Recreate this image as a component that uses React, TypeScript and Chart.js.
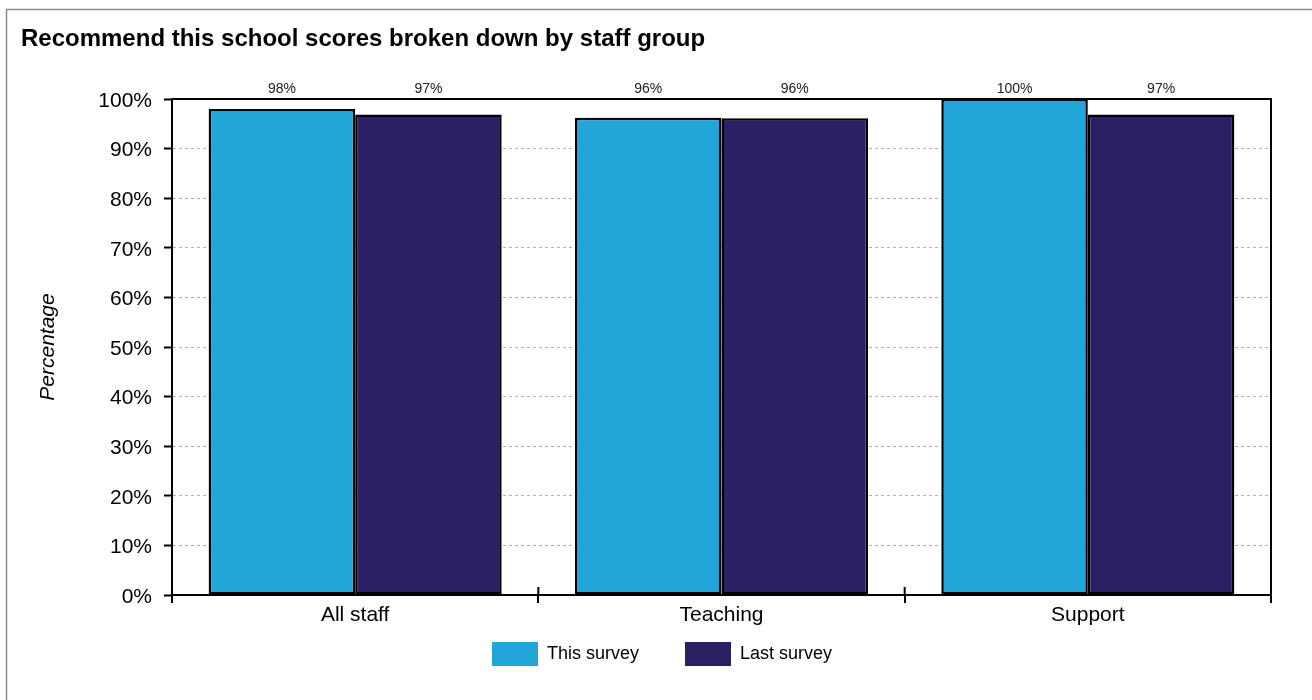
import React, { useEffect, useRef } from "react";
import { Chart, registerables } from "chart.js";

Chart.register(...registerables);

const TITLE = "Recommend this school scores broken down by staff group";
const categories = ["All staff", "Teaching", "Support"];
const thisSurvey = [98, 96.2, 100];
const lastSurvey = [96.9, 96.1, 96.9];
const seriesNames = ["This survey", "Last survey"];
const yAxisTitle = "Percentage";

const FONT = "'Liberation Sans', Arial, Helvetica, sans-serif";

const placeLegend = (chart: any) => {
  const lg = chart.legend;
  if (!lg) return;
  const h = lg.bottom - lg.top;
  lg.top = chart.chartArea.bottom + 1;
  lg.bottom = lg.top + h;
};

const framePlugin = {
  id: "framePlugin",
  afterLayout(chart: any) {
    placeLegend(chart);
  },
  beforeDraw(chart: any) {
    placeLegend(chart);
  },
  afterDraw(chart: any) {
    const { ctx, chartArea } = chart;
    const xs = chart.scales.x;
    ctx.save();
    // outer gray frame
    ctx.strokeStyle = "#8a8a8a";
    ctx.lineWidth = 1.5;
    ctx.beginPath();
    ctx.moveTo(6.5, 700);
    ctx.lineTo(6.5, 9.5);
    ctx.lineTo(1312, 9.5);
    ctx.stroke();
    // title
    ctx.fillStyle = "#000";
    ctx.font = `bold 24px ${FONT}`;
    ctx.textAlign = "left";
    ctx.textBaseline = "alphabetic";
    ctx.fillText(TITLE, 21, 46);
    // top and right border of plot
    ctx.strokeStyle = "#000";
    ctx.lineWidth = 2;
    ctx.beginPath();
    ctx.moveTo(chartArea.left - 1, chartArea.top);
    ctx.lineTo(chartArea.right, chartArea.top);
    ctx.lineTo(chartArea.right, chartArea.bottom);
    ctx.stroke();
    // category separator ticks above the axis
    ctx.beginPath();
    for (let i = 1; i < categories.length; i++) {
      const x = (xs.getPixelForValue(i - 1) + xs.getPixelForValue(i)) / 2;
      ctx.moveTo(x, chartArea.bottom - 8);
      ctx.lineTo(x, chartArea.bottom);
    }
    ctx.moveTo(chartArea.right, chartArea.bottom - 8);
    ctx.lineTo(chartArea.right, chartArea.bottom + 8);
    ctx.stroke();
    // data labels above plot
    ctx.fillStyle = "#222";
    ctx.font = `14px ${FONT}`;
    ctx.textAlign = "center";
    chart.data.datasets.forEach((ds: any, di: number) => {
      const meta = chart.getDatasetMeta(di);
      meta.data.forEach((el: any, i: number) => {
        ctx.fillText(Math.round(ds.data[i]) + "%", el.x, chartArea.top - 6);
      });
    });
    ctx.restore();
  },
};

export default function App() {
  const ref = useRef<HTMLCanvasElement | null>(null);
  useEffect(() => {
    if (!ref.current) return;
    Chart.defaults.font.family = FONT;
    const chart = new Chart(ref.current, {
      type: "bar",
      data: {
        labels: categories,
        datasets: [
          {
            label: seriesNames[0],
            data: thisSurvey,
            backgroundColor: "#22A5D8",
            borderColor: "#000",
            borderWidth: 2.5,
            borderSkipped: false,
            categoryPercentage: 0.8,
            barPercentage: 1.0,
          },
          {
            label: seriesNames[1],
            data: lastSurvey,
            backgroundColor: "#2B2064",
            borderColor: "#000",
            borderWidth: 2.5,
            borderSkipped: false,
            categoryPercentage: 0.8,
            barPercentage: 1.0,
          },
        ],
      },
      options: {
        responsive: false,
        animation: false,
        layout: { padding: { left: 53, right: 41, top: 99, bottom: 0 } },
        plugins: {
          title: { display: false },
          tooltip: { enabled: false },
          legend: {
            position: "bottom",
            maxHeight: 70,
            labels: {
              boxWidth: 46,
              boxHeight: 25,
              padding: 46,
              color: "#000",
              font: { size: 18, family: FONT },
              generateLabels: (c: any) =>
                (Chart.defaults.plugins.legend.labels as any)
                  .generateLabels(c)
                  .map((l: any) => ({ ...l, lineWidth: 0, strokeStyle: l.fillStyle })),
            },
          },
        },
        scales: {
          x: {
            offset: true,
            afterFit: (s: any) => {
              s.height = 35;
            },
            grid: {
              display: true,
              offset: true,
              drawOnChartArea: false,
              drawTicks: true,
              tickLength: 8,
              color: "#000",
              lineWidth: 2,
            },
            border: { display: true, color: "#000", width: 2 },
            ticks: { color: "#000", padding: 0, font: { size: 21, family: FONT } },
          },
          y: {
            min: 0,
            max: 100,
            afterFit: (s: any) => {
              s.width = 119;
            },
            ticks: {
              stepSize: 10,
              color: "#000",
              padding: 12,
              labelOffset: 2,
              font: { size: 21, family: FONT },
              callback: (v: any) => v + "%",
            },
            grid: {
              color: "#b0b0b0",
              lineWidth: 1,
              tickColor: "#000",
              tickWidth: 2,
              tickLength: 8,
              tickBorderDash: [],
            } as any,
            border: { display: true, color: "#000", width: 2, dash: [3, 3] },
            title: {
              display: true,
              text: yAxisTitle,
              color: "#000",
              font: { size: 21, style: "italic", family: FONT },
              padding: { top: -17, bottom: 0 },
            },
          },
        },
      },
      plugins: [framePlugin],
    } as any);
    return () => chart.destroy();
  }, []);
  return (
    <div style={{ position: "absolute", left: 0, top: 0, width: 1312, height: 700 }}>
      <canvas ref={ref} width={1312} height={700} style={{ display: "block", width: 1312, height: 700 }} />
    </div>
  );
}
